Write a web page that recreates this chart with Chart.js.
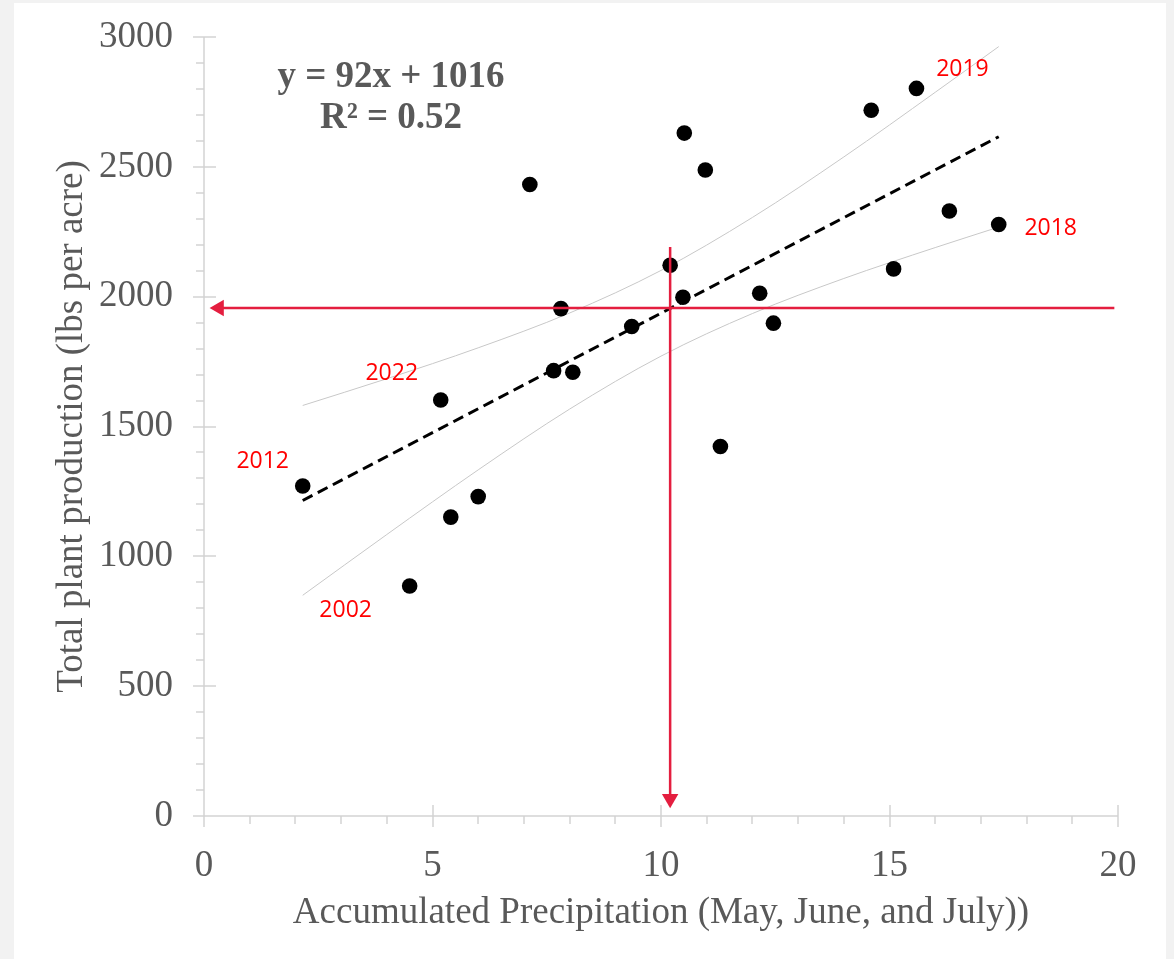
<!DOCTYPE html>
<html>
<head>
<meta charset="utf-8">
<title>Total plant production vs accumulated precipitation</title>
<script src="https://cdn.jsdelivr.net/npm/chart.js@4.4.1/dist/chart.umd.min.js"></script>
<style>
  html, body { margin: 0; padding: 0; background: #f2f2f2; overflow: hidden; }
  #panel { position: absolute; left: 14px; top: 3px; width: 1152px; height: 960px; background: #fff; }
  #chart { position: absolute; left: 0; top: 0; }
</style>
</head>
<body>
<div id="panel"></div>
<canvas id="chart" width="1174" height="959"></canvas>
<script>
'use strict';

// yearly observations (sorted by precipitation)
const precip = [2.16, 4.50, 5.18, 5.40, 6.00, 7.13, 7.65, 7.81, 8.07, 9.36, 10.20,
	10.48, 10.51, 10.97, 11.30, 12.16, 12.46, 14.60, 15.09, 15.59, 16.31, 17.39];
const production = [1271, 886, 1602, 1151, 1230, 2432, 1715, 1954, 1709, 1885, 2121,
	1998, 2630, 2488, 1423, 2013, 1898, 2718, 2107, 2802, 2330, 2278];

// years called out on the chart, with the index of their observation
const labelYears = ['2019', '2018', '2022', '2012', '2002'];
const labelIndex = [19, 21, 2, 0, 1];

// linear trend (ends) and the curved bands around it
const trendX = [2.16, 17.39];
const trendY = [1215, 2616];
const bandX = [2.16, 4, 6, 8, 10, 12, 14, 16, 17.39];
const bandUpper = [1581, 1684, 1803, 1937, 2101, 2305, 2538, 2787, 2963];
const bandLower = [850, 1084, 1333, 1567, 1771, 1935, 2070, 2189, 2268];

// red guide arrows: 10.2 in of rain -> ~1956 lbs per acre
const guideHX = [19.92, 0.33];
const guideHY = [1956, 1956];
const guideVX = [10.2, 10.2];
const guideVY = [2191, 66];

const equation = ['y = 92x + 1016', 'R\u00b2 = 0.52'];

const xTicks = [0, 5, 10, 15, 20];
const yTicks = [0, 500, 1000, 1500, 2000, 2500, 3000];
const xMinorStep = 1;
const yMinorStep = 100;

const RED = '#e41e3f';
const GREY_TEXT = '#595959';
const SERIF = '"Liberation Serif", "Times New Roman", serif';

const toPoints = ( xs, ys ) => xs.map( ( x, i ) => ( { x: x, y: ys[ i ] } ) );

// axis lines with major / minor tick marks
const axisMarks = {
	id: 'axisMarks',
	beforeDatasetsDraw: function ( chart ) {
		const { ctx, scales: { x, y } } = chart;
		const left = x.left;
		const bottom = y.bottom;

		ctx.save();
		ctx.strokeStyle = '#d3d3d3';
		ctx.lineWidth = 1.5;
		ctx.beginPath();
		ctx.moveTo( left, y.top );
		ctx.lineTo( left, bottom );
		ctx.lineTo( x.right, bottom );

		for ( let v = y.min; v <= y.max; v += yMinorStep ) {
			const py = Math.round( y.getPixelForValue( v ) );
			const major = yTicks.includes( v );
			ctx.moveTo( left - ( major ? 11 : 8 ), py );
			ctx.lineTo( left + ( major ? 12 : 0 ), py );
		}
		for ( let v = x.min; v <= x.max; v += xMinorStep ) {
			const px = Math.round( x.getPixelForValue( v ) );
			const major = xTicks.includes( v );
			ctx.moveTo( px, bottom + ( major ? 11 : 8 ) );
			ctx.lineTo( px, bottom - ( major ? 11 : 0 ) );
		}
		ctx.stroke();
		ctx.restore();
	},
};

// regression equation and year call-outs
const labelOffsets = [ [ 46, -19 ], [ 52, 4 ], [ -49, -27 ], [ -40, -25 ], [ -64, 25 ] ];

const notes = {
	id: 'notes',
	afterDatasetsDraw: function ( chart ) {
		const { ctx, chartArea, scales: { x, y } } = chart;

		ctx.save();
		ctx.textAlign = 'center';
		ctx.textBaseline = 'middle';

		ctx.fillStyle = GREY_TEXT;
		ctx.font = 'bold 37px ' + SERIF;
		ctx.fillText( equation[ 0 ], chartArea.left + 187, chartArea.top + 40 );
		ctx.fillText( equation[ 1 ], chartArea.left + 187, chartArea.top + 81 );

		ctx.fillStyle = '#ff0000';
		ctx.font = '23px "Open Sans", sans-serif';
		labelYears.forEach( ( year, i ) => {
			const idx = labelIndex[ i ];
			const px = x.getPixelForValue( precip[ idx ] ) + labelOffsets[ i ][ 0 ];
			const py = y.getPixelForValue( production[ idx ] ) + labelOffsets[ i ][ 1 ];
			ctx.fillText( year, px, py );
		} );

		ctx.restore();
	},
};

new Chart( document.getElementById( 'chart' ), {
	type: 'scatter',
	data: {
		datasets: [
			{
				data: toPoints( guideHX, guideHY ),
				showLine: true,
				borderColor: RED,
				backgroundColor: RED,
				borderWidth: 2.5,
				pointStyle: 'triangle',
				pointRotation: 270,
				pointRadius: [ 0, 9.5 ],
				pointBorderWidth: 0,
			},
			{
				data: toPoints( guideVX, guideVY ),
				showLine: true,
				borderColor: RED,
				backgroundColor: RED,
				borderWidth: 2.5,
				pointStyle: 'triangle',
				pointRotation: 180,
				pointRadius: [ 0, 9.5 ],
				pointBorderWidth: 0,
			},
			{
				data: toPoints( precip, production ),
				backgroundColor: '#000',
				borderWidth: 0,
				pointRadius: 7.8,
			},
			{
				data: toPoints( trendX, trendY ),
				showLine: true,
				borderColor: '#000',
				borderWidth: 3,
				borderDash: [ 11, 6 ],
				pointRadius: 0,
			},
			{
				data: toPoints( bandX, bandUpper ),
				showLine: true,
				borderColor: '#c8c8c8',
				borderWidth: 1,
				cubicInterpolationMode: 'monotone',
				pointRadius: 0,
			},
			{
				data: toPoints( bandX, bandLower ),
				showLine: true,
				borderColor: '#c8c8c8',
				borderWidth: 1,
				cubicInterpolationMode: 'monotone',
				pointRadius: 0,
			},
		],
	},
	options: {
		responsive: false,
		animation: false,
		events: [],
		layout: { padding: { left: 0, top: 37, right: 56, bottom: 0 } },
		plugins: {
			legend: { display: false },
			tooltip: { enabled: false },
		},
		scales: {
			x: {
				type: 'linear',
				min: 0,
				max: 20,
				grid: { display: false },
				border: { display: false },
				afterBuildTicks: ( scale ) => {
					scale.ticks = xTicks.map( v => ( { value: v } ) );
				},
				afterFit: ( scale ) => {
					scale.height = 143;
					scale.paddingLeft = 0;
					scale.paddingRight = 0;
				},
				ticks: {
					padding: 20,
					color: GREY_TEXT,
					font: { family: SERIF, size: 37 },
					callback: ( value ) => String( value ),
				},
				title: {
					display: true,
					text: 'Accumulated Precipitation (May, June, and July))',
					color: GREY_TEXT,
					font: { family: SERIF, size: 37 },
					padding: { top: 0, bottom: 24 },
				},
			},
			y: {
				type: 'linear',
				min: 0,
				max: 3000,
				grid: { display: false },
				border: { display: false },
				afterBuildTicks: ( scale ) => {
					scale.ticks = yTicks.map( v => ( { value: v } ) );
				},
				afterFit: ( scale ) => {
					scale.width = 204;
					scale.paddingTop = 0;
					scale.paddingBottom = 0;
				},
				ticks: {
					padding: 23,
					color: GREY_TEXT,
					font: { family: SERIF, size: 37 },
					callback: ( value ) => String( value ),
				},
				title: {
					display: true,
					text: 'Total plant production (lbs per acre)',
					color: GREY_TEXT,
					font: { family: SERIF, size: 37 },
					padding: { top: 50, bottom: 0 },
				},
			},
		},
	},
	plugins: [ axisMarks, notes ],
} );
</script>
</body>
</html>
